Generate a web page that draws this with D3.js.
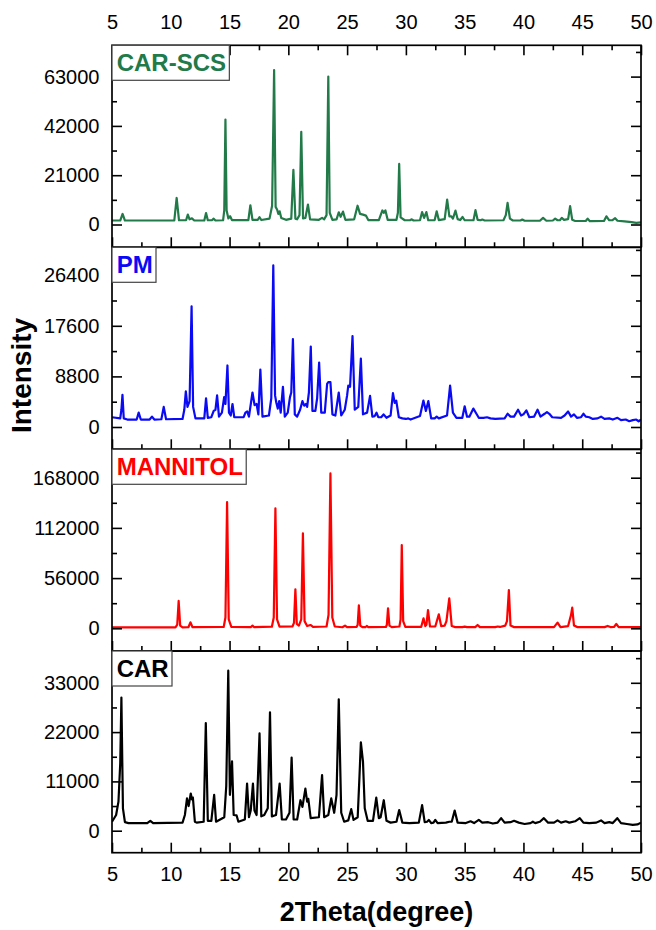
<!DOCTYPE html>
<html>
<head>
<meta charset="utf-8">
<script src="https://cdn.jsdelivr.net/npm/d3@7"></script>
<style>
  body { margin: 0; background: #fff; }
  svg { display: block; }
</style>
</head>
<body>
<script>
// ---- XRD patterns: [2theta (deg), intensity (counts)] vertices ----
const carScs = [
  [5.0,1700],[5.7,1700],[5.9,4500],[6.1,1700],
  [10.3,1700],[10.5,11300],[10.7,1800],
  [11.3,1800],[11.45,4200],[11.6,2200],[11.8,2600],[12.0,1700],
  [12.85,1700],[13.0,4900],[13.15,1800],[13.5,1800],[13.65,2500],[13.8,1700],
  [14.45,1800],[14.55,6000],[14.65,44700],[14.75,6000],[14.9,2600],[15.05,3500],[15.2,1900],
  [16.6,1900],[16.77,8200],[16.95,2000],[17.4,2000],[17.55,3100],[17.7,1900],
  [18.4,2500],[18.62,8000],[18.79,65800],[18.92,7500],[19.05,6300],[19.15,4500],[19.26,5600],[19.4,2800],[19.8,2000],
  [20.25,2500],[20.43,23300],[20.6,2500],[20.75,2200],[20.95,4000],[21.1,39500],[21.25,2600],[21.45,2800],[21.67,8500],[21.85,2200],
  [22.6,2000],[22.87,2800],[23.05,2200],[23.25,4000],[23.4,63000],[23.52,5000],[23.75,2000],
  [24.1,2200],[24.29,5200],[24.45,3300],[24.65,5500],[24.85,2000],
  [25.6,2200],[25.89,8000],[26.1,4500],[26.35,4200],[26.6,3800],[26.8,1900],
  [27.7,1900],[28.0,6000],[28.12,5000],[28.26,6000],[28.45,2000],
  [29.2,2000],[29.32,5000],[29.43,25800],[29.55,3000],[29.9,1800],
  [30.35,1800],[30.5,2200],[30.65,1700],
  [31.2,1800],[31.38,5300],[31.55,2800],[31.74,5300],[31.9,1800],
  [32.45,1900],[32.62,5600],[32.8,1900],
  [33.3,2300],[33.51,10600],[33.7,3500],[33.87,3500],[34.0,2500],[34.22,5900],[34.4,2300],[34.62,1900],[34.82,3200],[35.0,1800],
  [35.75,1800],[35.92,6100],[36.1,2000],[36.35,1800],[36.5,2100],[36.7,1700],
  [38.3,1800],[38.5,4000],[38.65,9200],[38.85,2500],[39.1,1700],
  [39.75,1700],[39.9,2100],[40.1,1600],
  [41.4,1600],[41.67,2800],[41.95,1600],
  [42.5,1700],[42.7,2500],[42.9,1800],[43.1,1800],[43.26,2800],[43.45,2000],[43.8,2300],[43.97,7800],[44.15,2000],[44.4,1500],
  [45.3,1500],[45.46,2500],[45.65,1400],
  [46.85,1500],[47.06,3500],[47.3,1800],[47.55,1800],[47.8,2700],[48.0,1600],[48.6,1300],
  [49.2,1000],[49.6,700],[50.0,900]
];

const pm = [
  [5.0,1700],[5.7,1500],[5.8,3000],[5.89,5600],[6.0,1500],[6.3,1300],
  [7.1,1300],[7.27,2500],[7.45,1300],
  [8.2,1300],[8.4,1800],[8.6,1300],
  [9.2,1350],[9.4,3500],[9.6,1350],
  [11.0,1400],[11.15,3000],[11.28,6200],[11.42,3500],[11.6,4500],[11.77,21000],[11.9,3500],[12.1,1500],
  [12.85,1500],[13.0,5000],[13.15,1600],
  [13.45,1700],[13.65,2800],[13.8,3000],[13.94,5500],[14.1,1800],
  [14.35,2500],[14.54,5200],[14.65,4000],[14.82,10700],[14.95,2500],[15.1,2000],[15.25,4000],[15.4,1700],
  [16.2,1700],[16.35,2500],[16.5,2700],[16.65,1800],[16.95,6000],[17.13,3800],[17.3,4000],[17.45,2200],[17.62,10000],[17.8,1800],
  [18.35,2000],[18.55,5000],[18.72,28100],[18.87,5500],[18.97,4300],[19.1,3200],[19.22,4500],[19.35,2500],[19.54,7000],[19.7,1800],
  [19.95,2500],[20.14,5200],[20.25,6000],[20.39,15300],[20.55,2200],[20.75,1800],
  [21.0,3000],[21.2,4500],[21.35,3700],[21.5,4000],[21.6,3500],[21.75,6000],[21.91,14000],[22.05,2800],
  [22.3,2800],[22.45,5000],[22.62,11200],[22.8,2500],
  [23.1,2500],[23.3,7500],[23.4,7800],[23.58,7800],[23.75,2200],
  [24.0,2000],[24.29,6000],[24.5,2000],
  [24.8,3000],[25.0,5500],[25.1,7200],[25.25,7000],[25.46,15800],[25.65,3000],
  [25.95,3500],[26.17,11900],[26.35,2200],
  [26.7,2500],[26.95,5400],[27.15,1800],[27.35,1900],[27.5,2500],[27.65,1700],
  [27.9,1700],[28.1,2200],[28.35,1600],
  [28.7,2000],[28.9,5900],[29.05,4200],[29.18,4600],[29.4,1700],[29.7,1500],
  [30.0,1400],[30.2,1500],[30.4,1300],
  [31.2,1900],[31.49,4600],[31.7,2800],[31.91,4500],[32.15,1500],
  [32.45,1500],[32.62,1800],[32.8,1500],
  [33.5,2000],[33.76,7200],[34.0,2500],[34.3,1600],
  [34.8,1600],[35.0,3600],[35.2,1800],[35.4,1800],[35.74,3200],[36.0,2300],[36.2,1600],
  [36.6,1600],[36.9,1700],[37.2,1500],[37.6,1400],
  [38.4,1500],[38.65,2300],[38.9,1800],[39.2,1800],[39.54,3000],[39.8,2000],[40.0,2200],[40.25,2900],[40.5,1700],
  [40.9,1800],[41.2,3000],[41.45,1800],[41.8,2300],[42.0,2600],[42.2,2300],[42.45,1700],
  [43.2,1600],[43.5,2000],[43.8,2700],[44.05,1800],[44.3,2200],[44.55,1600],
  [44.9,1700],[45.1,2300],[45.3,1800],[45.6,1700],[45.9,1400],
  [46.3,1500],[46.6,1800],[46.9,1400],[47.3,1500],[47.6,1300],
  [48.0,1600],[48.3,1200],[48.7,1300],[49.0,1000],[49.3,1200],[49.6,1300],[49.8,1000],[50.0,1300]
];

const mannitol = [
  [5.0,1100],[10.4,1100],[10.55,4000],[10.67,30500],[10.8,3000],[11.0,1100],
  [11.5,1200],[11.67,6700],[11.85,1200],
  [14.5,1500],[14.65,12000],[14.79,140900],[14.93,10000],[15.15,1500],
  [16.8,1200],[16.95,3000],[17.1,1200],
  [18.6,1800],[18.76,12000],[18.9,133800],[19.04,10000],[19.25,1800],
  [20.35,2000],[20.48,6000],[20.6,43500],[20.72,5000],[20.9,3000],[21.1,10000],[21.24,105900],[21.38,8000],[21.6,2500],[21.88,3700],[22.1,1500],
  [23.25,2000],[23.42,15000],[23.58,172800],[23.74,12000],[23.95,2000],
  [24.6,1200],[24.82,3000],[25.0,1200],
  [25.8,1500],[25.9,4000],[26.0,25600],[26.12,3000],[26.3,1200],[26.55,1200],[26.67,2600],[26.8,1200],
  [28.3,1500],[28.38,4000],[28.48,22300],[28.6,3000],[28.8,1300],
  [29.45,2000],[29.55,10000],[29.65,92900],[29.77,8000],[29.95,1500],
  [31.3,1500],[31.5,11100],[31.65,2500],[31.75,4000],[31.88,20400],[32.05,2000],[32.5,2000],[32.8,15600],[33.0,2500],
  [33.3,3000],[33.45,8000],[33.69,33400],[33.9,2500],[34.2,1300],
  [34.8,1300],[35.0,1900],[35.2,1300],[35.9,1300],[36.1,3700],[36.3,1300],
  [37.6,1300],[37.8,2000],[38.0,1500],[38.45,3000],[38.6,8000],[38.76,42700],[38.9,3000],[39.2,1300],
  [42.6,1300],[42.9,6300],[43.15,1400],[43.8,2500],[43.95,10000],[44.05,15000],[44.15,23000],[44.3,3000],[44.6,1300],
  [46.9,1300],[47.16,2600],[47.4,1400],[47.7,1500],[47.9,4800],[48.1,1300],[50.0,1300]
];

const car = [
  [5.0,2000],[5.35,3500],[5.55,6500],[5.7,15000],[5.8,29700],[5.93,5000],[6.1,1900],[6.4,1700],
  [8.0,1700],[8.26,2200],[8.5,1700],
  [11.0,1800],[11.2,3500],[11.38,7200],[11.52,5500],[11.7,8300],[11.8,7000],[11.88,7400],[12.05,2000],[12.2,1800],
  [12.8,2000],[12.98,24000],[13.15,2200],[13.45,2200],[13.69,8000],[13.85,2000],
  [14.55,3000],[14.72,10000],[14.89,35700],[15.03,8000],[15.21,15500],[15.35,3500],[15.6,3400],[15.75,2000],
  [16.3,2500],[16.49,10500],[16.65,3000],[16.8,4500],[16.99,10500],[17.12,4500],[17.3,3500],[17.55,21700],[17.7,3200],[17.95,3500],
  [18.25,5000],[18.44,26400],[18.6,3200],[18.95,3500],[19.26,10500],[19.45,2500],[19.8,2500],
  [20.1,4000],[20.28,16300],[20.45,2500],[20.75,2500],[21.03,6800],[21.2,5300],[21.45,9400],[21.6,6500],[21.7,7100],[21.9,2800],
  [22.6,3000],[22.87,12400],[23.05,3000],[23.4,3500],[23.65,7200],[23.9,4000],
  [24.1,8000],[24.29,29300],[24.5,4000],[24.75,2000],[25.1,2300],[25.35,4800],[25.55,2400],
  [25.9,3000],[26.05,12000],[26.17,19700],[26.35,15400],[26.5,5000],[26.75,2200],
  [27.2,2200],[27.48,7400],[27.7,2800],[27.85,3000],[28.12,6800],[28.35,2200],[28.7,1800],
  [29.2,2000],[29.43,4600],[29.7,1800],[30.3,1700],
  [31.1,1800],[31.38,5700],[31.6,1900],[31.8,2000],[31.95,2400],[32.15,1700],[32.35,1800],[32.5,2400],[32.7,1700],
  [33.4,1800],[33.7,2000],[33.9,2000],[34.15,4500],[34.4,1800],
  [35.1,1700],[35.5,2100],[35.8,1700],[36.2,2400],[36.5,1800],[37.0,1900],[37.4,1600],
  [37.8,1800],[38.1,2800],[38.4,1800],[38.9,1900],[39.2,2200],[39.6,1800],[40.1,1500],
  [40.6,1700],[40.8,2000],[41.0,1700],[41.4,2000],[41.74,2800],[42.1,1800],[42.6,1800],[42.9,2300],[43.2,1800],[43.6,2100],[43.9,1800],[44.4,2100],
  [44.79,2800],[45.1,1800],[45.6,1700],[46.2,1800],[46.6,2300],[46.9,1700],[47.3,1900],[47.6,1700],[47.98,2800],[48.3,1700],[48.8,1500],[49.3,1300],[49.7,1400],[50.0,1800]
];

// panel order top to bottom
const panelSeries = [carScs, pm, mannitol, car];
const panelNames = ["CAR-SCS", "PM", "MANNITOL", "CAR"];
const yTickValues = [
  [0, 21000, 42000, 63000],
  [0, 8800, 17600, 26400],
  [0, 56000, 112000, 168000],
  [0, 11000, 22000, 33000]
];
const yDomains = [
  [-9712, 76333],
  [-3878, 31252],
  [-25323, 199681],
  [-4909, 40095]
];
const xTickValues = [5, 10, 15, 20, 25, 30, 35, 40, 45, 50];
const xMinorValues = [7.5, 12.5, 17.5, 22.5, 27.5, 32.5, 37.5, 42.5, 47.5];

// ---- styling & layout ----
const panelColors = ["#217a48", "#0a0af5", "#ff0000", "#000000"];
const W = 656, H = 930;
const plotLeft = 112, plotRight = 641;
const panelTops = [45.3, 247.3, 449.3, 651];
const plotBottom = 852.7;
const fontFamily = '"Liberation Sans", Arial, Helvetica, sans-serif';
const majorLen = 10, minorLen = 5;

const svg = d3.select("body").append("svg")
  .attr("width", W).attr("height", H);

const x = d3.scaleLinear().domain([5, 50]).range([plotLeft, plotRight]);
const defs = svg.append("defs");

function styleAxis(g, fontSize) {
  g.attr("font-family", fontFamily).attr("font-size", fontSize);
  g.select(".domain").remove();
  g.selectAll(".tick line").attr("stroke", "#000").attr("stroke-width", 1.6);
  g.selectAll(".tick text").attr("fill", "#000");
}

panelSeries.forEach((data, i) => {
  const top = panelTops[i];
  const bottom = i < panelTops.length - 1 ? panelTops[i + 1] : plotBottom;
  const y = d3.scaleLinear().domain(yDomains[i]).range([bottom, top]);
  const step = yTickValues[i][1] - yTickValues[i][0];
  const yMinor = d3.range(yDomains[i][0] - (yDomains[i][0] % step) - step / 2, yDomains[i][1], step)
    .filter(v => v > yDomains[i][0] && v < yDomains[i][1] && (v / step) % 1 !== 0);

  const panel = svg.append("g");

  defs.append("clipPath").attr("id", "clip" + i)
    .append("rect")
    .attr("x", plotLeft).attr("y", top)
    .attr("width", plotRight - plotLeft).attr("height", bottom - top);

  // pattern curve
  panel.append("path")
    .datum(data)
    .attr("clip-path", `url(#clip${i})`)
    .attr("fill", "none")
    .attr("stroke", panelColors[i])
    .attr("stroke-width", 2.2)
    .attr("stroke-linejoin", "round")
    .attr("d", d3.line().x(d => x(d[0])).y(d => y(d[1])));

  // left axis: labels outside, ticks inside
  panel.append("g")
    .attr("transform", `translate(${plotLeft},0)`)
    .call(d3.axisLeft(y).tickValues(yTickValues[i]).tickSizeInner(-majorLen).tickSizeOuter(0)
      .tickPadding(12.5).tickFormat(d3.format("d")))
    .call(g => styleAxis(g, 20));
  panel.append("g")
    .attr("transform", `translate(${plotLeft},0)`)
    .call(d3.axisLeft(y).tickValues(yMinor).tickSizeInner(-minorLen).tickSizeOuter(0).tickFormat(""))
    .call(g => styleAxis(g, 20));

  // right axis: ticks only
  panel.append("g")
    .attr("transform", `translate(${plotRight},0)`)
    .call(d3.axisRight(y).tickValues(yTickValues[i]).tickSizeInner(-majorLen).tickSizeOuter(0).tickFormat(""))
    .call(g => styleAxis(g, 20));
  panel.append("g")
    .attr("transform", `translate(${plotRight},0)`)
    .call(d3.axisRight(y).tickValues(yMinor).tickSizeInner(-minorLen).tickSizeOuter(0).tickFormat(""))
    .call(g => styleAxis(g, 20));

  // bottom ticks of every panel, labels only under the last one
  const isLast = i === panelTops.length - 1;
  panel.append("g")
    .attr("transform", `translate(0,${bottom})`)
    .call(d3.axisBottom(x).tickValues(xTickValues).tickSizeInner(-majorLen).tickSizeOuter(0)
      .tickPadding(14).tickFormat(isLast ? d3.format("d") : ""))
    .call(g => styleAxis(g, 20));
  panel.append("g")
    .attr("transform", `translate(0,${bottom})`)
    .call(d3.axisBottom(x).tickValues(xMinorValues).tickSizeInner(-minorLen).tickSizeOuter(0).tickFormat(""))
    .call(g => styleAxis(g, 20));

  // top axis with labels on the first panel
  if (i === 0) {
    panel.append("g")
      .attr("transform", `translate(0,${top})`)
      .call(d3.axisTop(x).tickValues(xTickValues).tickSizeInner(-majorLen).tickSizeOuter(0)
        .tickPadding(16.3).tickFormat(d3.format("d")))
      .call(g => styleAxis(g, 20));
    panel.append("g")
      .attr("transform", `translate(0,${top})`)
      .call(d3.axisTop(x).tickValues(xMinorValues).tickSizeInner(-minorLen).tickSizeOuter(0).tickFormat(""))
      .call(g => styleAxis(g, 20));
  }

  // panel frame
  panel.append("rect")
    .attr("x", plotLeft).attr("y", top)
    .attr("width", plotRight - plotLeft).attr("height", bottom - top)
    .attr("fill", "none").attr("stroke", "#000").attr("stroke-width", 1.7);

  // sample name box
  const tag = panel.append("g");
  const box = tag.append("rect");
  const label = tag.append("text")
    .attr("x", plotLeft + 4.7)
    .attr("y", top + 25.7)
    .attr("font-family", fontFamily)
    .attr("font-size", 24)
    .attr("font-weight", "bold")
    .attr("fill", panelColors[i])
    .text(panelNames[i]);
  const len = label.node().getComputedTextLength();
  box.attr("x", plotLeft).attr("y", top)
    .attr("width", len + 8).attr("height", 35)
    .attr("fill", "#fff").attr("stroke", "#444").attr("stroke-width", 1.2);
});

// axis titles
svg.append("text")
  .attr("transform", "translate(31,375.5) rotate(-90)")
  .attr("text-anchor", "middle")
  .attr("font-family", fontFamily)
  .attr("font-size", 28)
  .attr("font-weight", "bold")
  .text("Intensity");

svg.append("text")
  .attr("x", (plotLeft + plotRight) / 2)
  .attr("y", 921)
  .attr("text-anchor", "middle")
  .attr("font-family", fontFamily)
  .attr("font-size", 27)
  .attr("font-weight", "bold")
  .text("2Theta(degree)");
</script>
</body>
</html>
